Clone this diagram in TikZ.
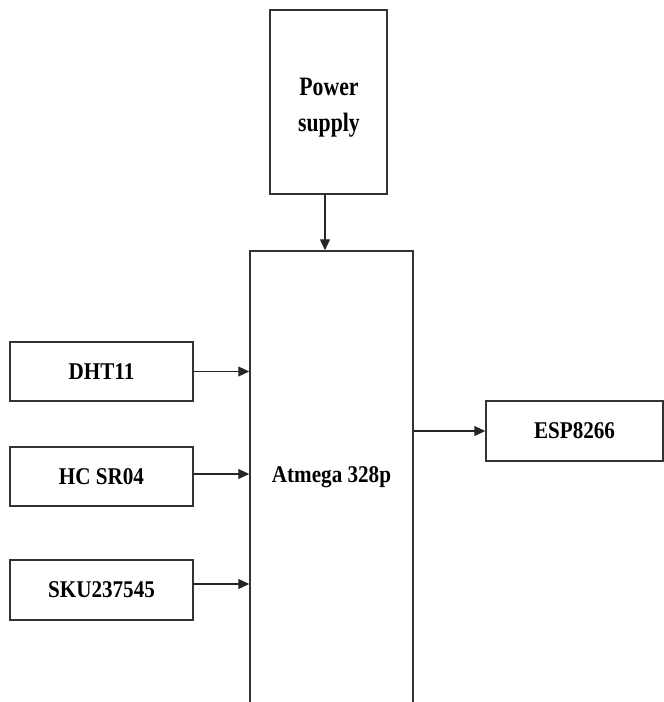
\documentclass[tikz,border=0pt]{standalone}
\usepackage{fontspec}
\setmainfont{Liberation Serif}[FakeStretch=0.88]
\newfontfamily\pwfont{Liberation Serif}[FakeStretch=0.82]
\usetikzlibrary{arrows.meta}
\begin{document}
\begin{tikzpicture}[x=1pt,y=-1pt,
  blk/.style={draw=black!80,line width=1.5pt,fill=white,inner sep=0pt,align=center,
    font=\fontsize{24}{32}\selectfont\bfseries},
  pwtxt/.style={anchor=base,inner sep=0pt,font=\pwfont\fontsize{26.5}{36}\selectfont\bfseries},
  conn/.style={draw=black!85,line width=1.1pt,-{Triangle[length=11pt,width=10pt]}}]
\useasboundingbox (0,0) rectangle (664,702);
\clip (0,0) rectangle (664,702);
\node[blk,minimum width=117pt,minimum height=184pt] (pw) at (328.5,102) {};
\node[pwtxt] (pwa) at (329,95) {Power};
\node[pwtxt] (pwb) at (329,131) {supply};
\node[blk,minimum width=163pt,minimum height=453pt] (atm) at (331.5,477.5) {Atmega 328p};
\node[blk,minimum width=183pt,minimum height=59pt] (dht) at (101.5,371.5) {DHT11};
\node[blk,minimum width=183pt,minimum height=59pt] (hc) at (101.5,476.5) {HC SR04};
\node[blk,minimum width=183pt,minimum height=60pt] (sku) at (101.5,590) {SKU237545};
\node[blk,minimum width=177pt,minimum height=60pt] (esp) at (574.5,431) {ESP8266};
\draw[conn] ([xshift=-3.5pt]pw.south) -- ([xshift=-3.5pt]pw.south |- atm.north);
\draw[conn] (dht.east) -- (dht.east -| atm.west);
\draw[conn] ([yshift=2.5pt]hc.east) -- ([yshift=2.5pt]hc.east -| atm.west);
\draw[conn] ([yshift=6pt]sku.east) -- ([yshift=6pt]sku.east -| atm.west);
\draw[conn] (esp.west -| atm.east) -- (esp.west);
\end{tikzpicture}
\end{document}
